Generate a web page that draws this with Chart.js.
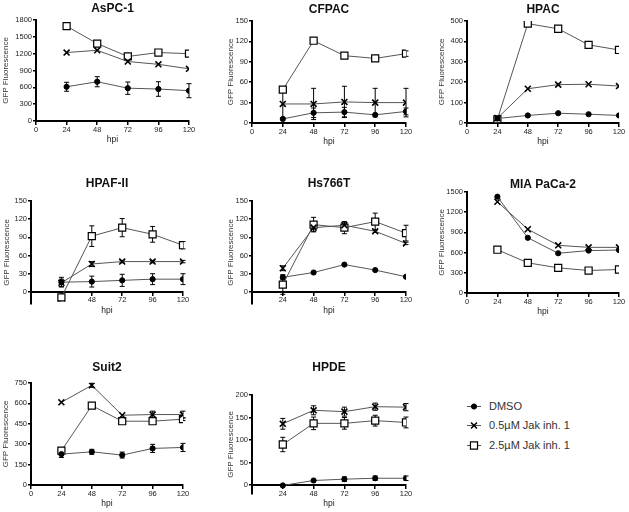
<!DOCTYPE html>
<html>
<head>
<meta charset="utf-8">
<script src="https://cdn.jsdelivr.net/npm/chart.js@4.4.1/dist/chart.umd.min.js"></script>
<style>
  html, body { margin: 0; padding: 0; background: #fff; }
  #page { position: relative; width: 629px; height: 512px; overflow: hidden; }
  #page canvas.panel { position: absolute; }
  .leg { position: absolute; left: 464px; height: 14px; font: 11px "Liberation Sans", Arial, sans-serif; color: #333; }
  .leg canvas { position: absolute; left: 0; top: 0; }
  .leg span { position: absolute; left: 25px; top: 0; line-height: 14px; white-space: nowrap; }
</style>
</head>
<body>
<div id="page">
  <div class="leg" style="top:399px"><canvas width="20" height="14"></canvas><span>DMSO</span></div>
  <div class="leg" style="top:418px"><canvas width="20" height="14"></canvas><span>0.5µM Jak inh. 1</span></div>
  <div class="leg" style="top:438px"><canvas width="20" height="14"></canvas><span>2.5µM Jak inh. 1</span></div>
</div>
<script>
"use strict";

const hpi = [24, 48, 72, 96, 120];
const seriesNames = ["DMSO", "0.5µM Jak inh. 1", "2.5µM Jak inh. 1"];

// AsPC-1
const aspcDmso = [610, 700, 585, 570, 540];
const aspcDmsoErr = [80, 90, 110, 130, 125];
const aspcJak05 = [1220, 1260, 1060, 1010, 930];
const aspcJak25 = [1690, 1380, 1150, 1220, 1200];

// CFPAC
const cfpacDmso = [6, 15, 16, 12, 17];
const cfpacDmsoErr = [0, 7, 7, 0, 5];
const cfpacJak05 = [28, 28, 31, 30, 30];
const cfpacJak05Err = [20, 23, 23, 21, 21];
const cfpacJak25 = [49, 121, 99, 95, 102];
const cfpacJak25Err = [0, 0, 0, 0, 4];

// HPAC
const hpacDmso = [22, 37, 48, 43, 37];
const hpacJak05 = [24, 168, 188, 190, 181];
const hpacJak25 = [18, 487, 462, 383, 358];
const hpacJak25Err = [0, 0, 10, 0, 0];

// HPAF-II
const hpafDmso = [16, 17, 19, 21, 21];
const hpafDmsoErr = [8, 9, 10, 9, 9];
const hpafJak05 = [15, 46, 50, 50, 50];
const hpafJak05Err = [6, 4, 2, 2, 2];
const hpafJak25 = [-9, 92, 106, 95, 77];
const hpafJak25Err = [0, 17, 15, 13, 6];

// Hs766T
const hsDmso = [24, 32, 45, 36, 25];
const hsDmsoErr = [4, 0, 0, 0, 0];
const hsJak05 = [39, 106, 110, 100, 80];
const hsJak05Err = [4, 6, 5, 2, 2];
const hsJak25 = [12, 111, 106, 116, 97];
const hsJak25Err = [16, 12, 10, 14, 13];

// MIA PaCa-2
const miaDmso = [1430, 820, 590, 630, 638];
const miaJak05 = [1355, 947, 708, 678, 678];
const miaJak25 = [643, 448, 374, 334, 349];

// Suit2
const suitDmso = [227, 244, 220, 269, 276];
const suitDmsoErr = [25, 18, 22, 30, 30];
const suitJak05 = [608, 733, 513, 518, 518];
const suitJak05Err = [0, 15, 0, 25, 25];
const suitJak25 = [252, 584, 469, 469, 484];
const suitJak25Err = [0, 0, 0, 0, 10];

// HPDE
const hpdeDmso = [-1, 10, 13, 15, 15];
const hpdeDmsoErr = [0, 0, 5, 5, 5];
const hpdeJak05 = [136, 166, 163, 174, 173];
const hpdeJak05Err = [12, 10, 10, 8, 8];
const hpdeJak25 = [90, 137, 137, 143, 139];
const hpdeJak25Err = [16, 14, 13, 12, 12];

const none = [0, 0, 0, 0, 0];

const panels = [
  { title: "AsPC-1", series: [aspcDmso, aspcJak05, aspcJak25], errs: [aspcDmsoErr, none, none], yMin: 0, yMax: 1800, step: 300 },
  { title: "CFPAC", series: [cfpacDmso, cfpacJak05, cfpacJak25], errs: [cfpacDmsoErr, cfpacJak05Err, cfpacJak25Err], yMin: 0, yMax: 150, step: 30 },
  { title: "HPAC", series: [hpacDmso, hpacJak05, hpacJak25], errs: [none, none, hpacJak25Err], yMin: 0, yMax: 500, step: 100 },
  { title: "HPAF-II", series: [hpafDmso, hpafJak05, hpafJak25], errs: [hpafDmsoErr, hpafJak05Err, hpafJak25Err], yMin: -20, yMax: 150, step: 30 },
  { title: "Hs766T", series: [hsDmso, hsJak05, hsJak25], errs: [hsDmsoErr, hsJak05Err, hsJak25Err], yMin: -20, yMax: 150, step: 30 },
  { title: "MIA PaCa-2", series: [miaDmso, miaJak05, miaJak25], errs: [none, none, none], yMin: 0, yMax: 1500, step: 300 },
  { title: "Suit2", series: [suitDmso, suitJak05, suitJak25], errs: [suitDmsoErr, suitJak05Err, suitJak25Err], yMin: 0, yMax: 750, step: 150 },
  { title: "HPDE", series: [hpdeDmso, hpdeJak05, hpdeJak25], errs: [hpdeDmsoErr, hpdeJak05Err, hpdeJak25Err], yMin: -20, yMax: 200, step: 50 },
];

// where each plot area sits on the page: L/R/T/B of the plot, title centre, y-title centre
const frames = [
  { L: 36, R: 189, T: 20, B: 121, tc: 8.5, ytx: 6 },
  { L: 252, R: 406, T: 21, B: 123, tc: 9, ytx: 231 },
  { L: 467, R: 619, T: 21, B: 123, tc: 9, ytx: 442 },
  { L: 31, R: 183, T: 201, B: 304, tc: 183.5, ytx: 7 },
  { L: 252, R: 406, T: 201, B: 304, tc: 183.5, ytx: 231 },
  { L: 467, R: 619, T: 192, B: 293, tc: 184, ytx: 442 },
  { L: 31, R: 183, T: 383, B: 485, tc: 367.5, ytx: 6 },
  { L: 252, R: 406, T: 395, B: 494, tc: 367.5, ytx: 231 },
];

const FONT = "'Liberation Sans', Arial, sans-serif";
Chart.defaults.font.family = FONT;
Chart.defaults.color = "#222";

const styles = [
  { pointStyle: "circle", pointRadius: 2.6, pointBackgroundColor: "#000", pointBorderColor: "#000", pointBorderWidth: 1 },
  { pointStyle: "crossRot", pointRadius: 4.2, pointBackgroundColor: "#000", pointBorderColor: "#000", pointBorderWidth: 1.6 },
  { pointStyle: "rect", pointRadius: 5, pointBackgroundColor: "#fff", pointBorderColor: "#000", pointBorderWidth: 1.2 },
];

// SEM bars, drawn under the markers
const errorBars = {
  id: "errorBars",
  beforeDatasetsDraw(chart) {
    const ctx = chart.ctx;
    const yScale = chart.scales.y;
    chart.data.datasets.forEach((ds, i) => {
      const meta = chart.getDatasetMeta(i);
      ctx.save();
      ctx.strokeStyle = "#000";
      ctx.lineWidth = 1;
      meta.data.forEach((pt, j) => {
        const e = ds.errors[j];
        if (!e) return;
        const v = ds.data[j].y;
        const top = yScale.getPixelForValue(v + e);
        const bot = yScale.getPixelForValue(v - e);
        ctx.beginPath();
        ctx.moveTo(pt.x, top); ctx.lineTo(pt.x, bot);
        ctx.moveTo(pt.x - 2.5, top); ctx.lineTo(pt.x + 2.5, top);
        ctx.moveTo(pt.x - 2.5, bot); ctx.lineTo(pt.x + 2.5, bot);
        ctx.stroke();
      });
      ctx.restore();
    });
  },
};

const page = document.getElementById("page");

panels.forEach((p, k) => {
  const f = frames[k];
  const cx = Math.round(f.ytx - 4.8);
  const cy = Math.round(f.tc - 7.2);
  const padR = 10, padB = 24;
  const canvas = document.createElement("canvas");
  canvas.className = "panel";
  canvas.width = f.R + padR - cx;
  canvas.height = f.B + padB - cy;
  canvas.style.left = cx + "px";
  canvas.style.top = cy + "px";
  canvas.style.width = canvas.width + "px";
  canvas.style.height = canvas.height + "px";
  page.appendChild(canvas);

  const belowZero = p.yMin < 0;

  new Chart(canvas, {
    type: "line",
    data: {
      labels: hpi,
      datasets: p.series.map((vals, i) => ({
        label: seriesNames[i],
        data: hpi.map((x, j) => ({ x: x, y: vals[j] })),
        errors: p.errs[i],
        borderColor: "#555",
        borderWidth: 1,
        tension: 0,
        fill: false,
        ...styles[i],
      })),
    },
    options: {
      responsive: false,
      animation: false,
      devicePixelRatio: 1,
      layout: { padding: { left: 0, top: 0, right: padR, bottom: padB } },
      scales: {
        x: {
          type: "linear",
          position: { y: 0 },
          min: 0,
          max: 120,
          afterBuildTicks: (scale) => {
            if (belowZero) scale.ticks = scale.ticks.filter((t) => t.value > 0);
          },
          afterFit: (scale) => {
            scale.height = 24;
            scale.bottom = scale.top + 24;
          },
          ticks: { stepSize: 24, padding: 1, maxRotation: 0, autoSkip: false, color: "#222", font: { size: 7.5 }, callback: (v) => String(v) },
          grid: { display: true, drawOnChartArea: false, drawTicks: true, tickLength: 3, color: "#000", lineWidth: 1.5 },
          border: { display: true, color: "#000", width: 2 },
          title: { display: true, text: "hpi", color: "#222", font: { size: 8.5 }, padding: { top: 0, bottom: 0 } },
        },
        y: {
          type: "linear",
          position: "left",
          min: p.yMin,
          max: p.yMax,
          afterBuildTicks: (scale) => {
            scale.ticks = scale.ticks.filter((t) => t.value >= 0);
          },
          afterFit: (scale) => {
            scale.width = f.L - cx;
          },
          ticks: { stepSize: p.step, padding: 1, color: "#222", font: { size: 7.5 }, callback: (v) => String(v) },
          grid: { display: true, drawOnChartArea: false, drawTicks: true, tickLength: 3, color: "#000", lineWidth: 1.5 },
          border: { display: true, color: "#000", width: 2 },
          title: { display: true, text: "GFP Fluorescence", color: "#333", font: { size: 8 }, padding: { top: 0, bottom: 0 } },
        },
      },
      plugins: {
        legend: { display: false },
        tooltip: { enabled: false },
        title: {
          display: true,
          text: p.title,
          fullSize: false,
          color: "#111",
          font: { size: 12, weight: "bold", lineHeight: 1.2 },
          padding: { top: 0, bottom: f.T - cy - 14.4 },
        },
      },
    },
    plugins: [errorBars],
  });
});

// legend markers
document.querySelectorAll(".leg canvas").forEach((c, i) => {
  const ctx = c.getContext("2d");
  ctx.strokeStyle = "#555";
  ctx.lineWidth = 1;
  ctx.beginPath();
  ctx.moveTo(3, 7.5); ctx.lineTo(17, 7.5);
  ctx.stroke();
  const s = styles[i];
  ctx.fillStyle = s.pointBackgroundColor;
  ctx.strokeStyle = s.pointBorderColor;
  ctx.lineWidth = s.pointBorderWidth;
  Chart.helpers.drawPoint(ctx, { pointStyle: s.pointStyle, radius: s.pointRadius, borderWidth: s.pointBorderWidth, rotation: 0 }, 10, 7.5);
});
</script>
</body>
</html>
